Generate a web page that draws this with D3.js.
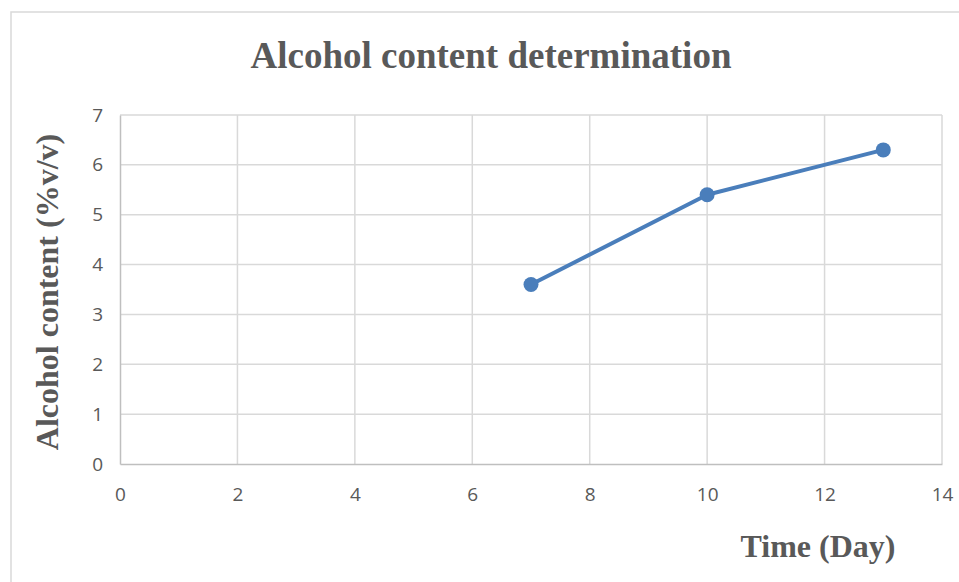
<!DOCTYPE html>
<html>
<head>
<meta charset="utf-8">
<script src="https://cdn.jsdelivr.net/npm/d3@7"></script>
<style>
  html, body { margin: 0; padding: 0; background: #fff; }
  svg { display: block; }
</style>
</head>
<body>
<svg id="chart" width="959" height="582"></svg>
<script>
// Alcohol content measured over the fermentation period
const days = [7, 10, 13];
const alcohol = [3.6, 5.4, 6.3];
const xTicks = [0, 2, 4, 6, 8, 10, 12, 14];
const yTicks = [0, 1, 2, 3, 4, 5, 6, 7];

const svg = d3.select("#chart");
const W = 959, H = 582;
const plot = { left: 120, right: 942, top: 115, bottom: 464 };

// Outer chart frame
svg.append("rect")
  .attr("x", 11).attr("y", 12)
  .attr("width", W + 20).attr("height", H + 20)
  .attr("fill", "#fff").attr("stroke", "#d9d9d9").attr("stroke-width", 1.5);

const x = d3.scaleLinear().domain([0, 14]).range([plot.left, plot.right]);
const y = d3.scaleLinear().domain([0, 7]).range([plot.bottom, plot.top]);

// Vertical gridlines
svg.append("g")
  .selectAll("line").data(xTicks.filter(d => d > 0)).join("line")
  .attr("x1", d => x(d)).attr("x2", d => x(d))
  .attr("y1", plot.top).attr("y2", plot.bottom)
  .attr("stroke", "#d9d9d9").attr("stroke-width", 1.5);

// Horizontal gridlines
svg.append("g")
  .selectAll("line").data(yTicks.filter(d => d > 0)).join("line")
  .attr("x1", plot.left).attr("x2", plot.right)
  .attr("y1", d => y(d)).attr("y2", d => y(d))
  .attr("stroke", "#d9d9d9").attr("stroke-width", 1.5);

// Axes
const xAxis = svg.append("g")
  .attr("transform", `translate(0,${plot.bottom})`)
  .call(d3.axisBottom(x).tickValues(xTicks).tickFormat(d3.format("d")).tickSize(0).tickPadding(24));
const yAxis = svg.append("g")
  .attr("transform", `translate(${plot.left},0)`)
  .call(d3.axisLeft(y).tickValues(yTicks).tickFormat(d3.format("d")).tickSize(0).tickPadding(17));

xAxis.select(".domain").attr("stroke", "#bfbfbf").attr("stroke-width", 1.5);
yAxis.select(".domain").attr("stroke", "#bfbfbf").attr("stroke-width", 1.5);
[xAxis, yAxis].forEach(g => g.selectAll("text")
  .attr("fill", "#595959")
  .style("font-family", "'Open Sans', 'Liberation Sans', sans-serif")
  .style("font-size", "19px"));

// Series line and markers
const line = d3.line().x((d, i) => x(days[i])).y(d => y(d));
svg.append("path")
  .datum(alcohol)
  .attr("d", line)
  .attr("fill", "none")
  .attr("stroke", "#4a7ebb")
  .attr("stroke-width", 4)
  .attr("stroke-linejoin", "round");

svg.append("g")
  .selectAll("circle").data(alcohol).join("circle")
  .attr("cx", (d, i) => x(days[i]))
  .attr("cy", d => y(d))
  .attr("r", 7.5)
  .attr("fill", "#4a7ebb");

// Titles
const serif = "'Liberation Serif', 'Times New Roman', serif";
svg.append("text")
  .attr("x", 491).attr("y", 68)
  .attr("text-anchor", "middle")
  .attr("fill", "#595959")
  .style("font-family", serif).style("font-weight", "bold").style("font-size", "37px")
  .text("Alcohol content determination");

svg.append("text")
  .attr("x", 818).attr("y", 557)
  .attr("text-anchor", "middle")
  .attr("fill", "#595959")
  .style("font-family", serif).style("font-weight", "bold").style("font-size", "32px")
  .text("Time (Day)");

svg.append("text")
  .attr("transform", "translate(58,292) rotate(-90)")
  .attr("text-anchor", "middle")
  .attr("fill", "#595959")
  .style("font-family", serif).style("font-weight", "bold").style("font-size", "32px")
  .text("Alcohol content (%v/v)");
</script>
</body>
</html>
